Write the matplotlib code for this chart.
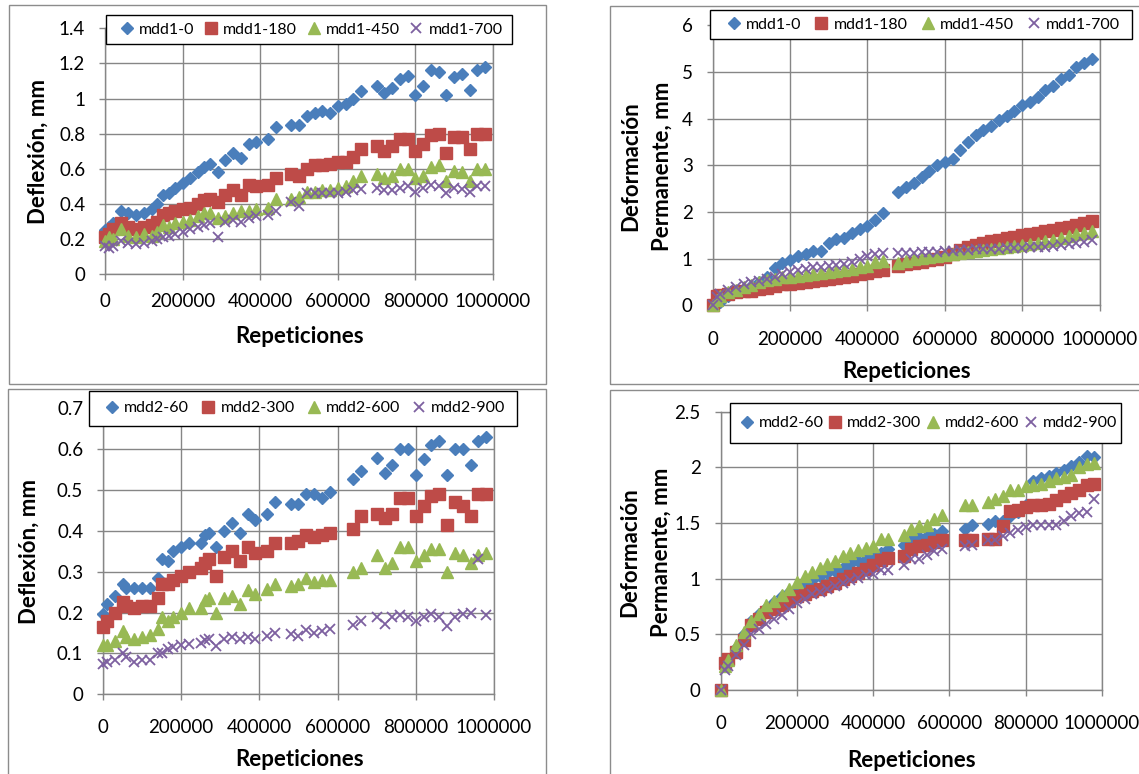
import matplotlib
matplotlib.use("Agg")
import matplotlib.pyplot as plt
from matplotlib.patches import Rectangle
from matplotlib.ticker import FuncFormatter

plt.rcParams['font.family'] = ['Lato', 'DejaVu Sans']

# ---- data ----
X_MDD1_DEF = [0, 10000, 20000, 40000, 60000, 80000, 100000, 120000, 135000, 150000,
              165000, 180000, 200000, 220000, 240000, 255000, 270000, 290000, 310000, 330000,
              350000, 370000, 390000, 420000, 440000, 480000, 500000, 520000, 540000, 560000,
              580000, 600000, 620000, 640000, 660000, 700000, 720000, 740000, 760000, 780000,
              800000, 820000, 840000, 860000, 880000, 900000, 920000, 940000, 960000, 980000]
MDD1_0_DEF = [0.25, 0.27, 0.29, 0.36, 0.35, 0.34, 0.35, 0.37, 0.40, 0.45,
              0.46, 0.49, 0.52, 0.55, 0.58, 0.61, 0.63, 0.58, 0.65, 0.69,
              0.66, 0.74, 0.75, 0.77, 0.84, 0.85, 0.85, 0.90, 0.92, 0.93,
              0.92, 0.96, 0.97, 1.00, 1.04, 1.07, 1.03, 1.06, 1.11, 1.13,
              1.02, 1.07, 1.16, 1.15, 1.02, 1.12, 1.14, 1.05, 1.16, 1.18]
MDD1_180_DEF = [0.215, 0.23, 0.26, 0.29, 0.27, 0.26, 0.27, 0.28, 0.30, 0.34,
                0.35, 0.36, 0.37, 0.38, 0.40, 0.42, 0.43, 0.41, 0.45, 0.48,
                0.45, 0.51, 0.50, 0.51, 0.55, 0.57, 0.56, 0.60, 0.62, 0.62,
                0.63, 0.64, 0.64, 0.67, 0.71, 0.73, 0.70, 0.73, 0.77, 0.77,
                0.70, 0.74, 0.79, 0.80, 0.69, 0.78, 0.78, 0.71, 0.80, 0.80]
MDD1_450_DEF = [0.19, 0.21, 0.20, 0.26, 0.22, 0.21, 0.23, 0.22, 0.24, 0.28,
                0.27, 0.29, 0.30, 0.31, 0.33, 0.35, 0.35, 0.32, 0.33, 0.35,
                0.36, 0.36, 0.37, 0.38, 0.43, 0.43, 0.44, 0.47, 0.47, 0.48,
                0.48, 0.49, 0.50, 0.53, 0.56, 0.57, 0.55, 0.56, 0.60, 0.60,
                0.55, 0.56, 0.61, 0.62, 0.53, 0.59, 0.58, 0.53, 0.60, 0.60]
MDD1_700_DEF = [0.16, 0.15, 0.16, 0.19, 0.18, 0.17, 0.18, 0.19, 0.20, 0.21,
                0.22, 0.23, 0.24, 0.26, 0.27, 0.28, 0.29, 0.215, 0.30, 0.31,
                0.30, 0.32, 0.33, 0.34, 0.36, 0.41, 0.39, 0.46, 0.46, 0.46,
                0.46, 0.46, 0.47, 0.48, 0.485, 0.49, 0.48, 0.48, 0.49, 0.50,
                0.47, 0.49, 0.51, 0.50, 0.46, 0.49, 0.485, 0.47, 0.50, 0.50]

X_MDD1_PERM = [0, 10000, 20000, 40000, 60000, 80000, 100000, 120000, 140000, 160000,
               180000, 200000, 220000, 240000, 260000, 280000, 300000, 320000, 340000, 360000,
               380000, 400000, 420000, 440000, 480000, 500000, 520000, 540000, 560000, 580000,
               600000, 620000, 640000, 660000, 680000, 700000, 720000, 740000, 760000, 780000,
               800000, 820000, 840000, 860000, 880000, 900000, 920000, 940000, 960000, 980000]
MDD1_0_PERM = [0.0, 0.04, 0.07, 0.20, 0.28, 0.36, 0.42, 0.50, 0.62, 0.80,
               0.90, 0.98, 1.05, 1.10, 1.16, 1.16, 1.34, 1.43, 1.45, 1.55,
               1.63, 1.70, 1.83, 1.98, 2.43, 2.53, 2.63, 2.75, 2.88, 3.00,
               3.08, 3.14, 3.32, 3.50, 3.64, 3.75, 3.85, 3.96, 4.06, 4.15,
               4.28, 4.36, 4.47, 4.60, 4.70, 4.85, 4.93, 5.10, 5.18, 5.28]
MDD1_180_PERM = [0.0, 0.20, 0.22, 0.25, 0.28, 0.30, 0.32, 0.35, 0.38, 0.42,
                 0.45, 0.46, 0.48, 0.50, 0.52, 0.55, 0.57, 0.59, 0.61, 0.64,
                 0.67, 0.70, 0.73, 0.76, 0.85, 0.88, 0.91, 0.94, 0.97, 1.00,
                 1.04, 1.10, 1.18, 1.26, 1.30, 1.34, 1.37, 1.41, 1.44, 1.47,
                 1.50, 1.53, 1.56, 1.59, 1.62, 1.65, 1.68, 1.72, 1.77, 1.80]
MDD1_450_PERM = [0.0, 0.12, 0.20, 0.28, 0.34, 0.40, 0.44, 0.50, 0.54, 0.57,
                 0.60, 0.62, 0.64, 0.66, 0.68, 0.70, 0.72, 0.74, 0.76, 0.79,
                 0.82, 0.84, 0.93, 0.96, 0.90, 0.95, 0.99, 1.01, 1.04, 1.06,
                 1.08, 1.10, 1.13, 1.15, 1.17, 1.19, 1.21, 1.23, 1.25, 1.27,
                 1.29, 1.31, 1.34, 1.37, 1.40, 1.44, 1.48, 1.52, 1.56, 1.60]
MDD1_700_PERM = [0.0, 0.18, 0.25, 0.33, 0.40, 0.45, 0.50, 0.53, 0.57, 0.62,
                 0.68, 0.72, 0.76, 0.79, 0.82, 0.82, 0.84, 0.86, 0.88, 0.93,
                 0.99, 1.05, 1.10, 1.12, 1.12, 1.13, 1.12, 1.14, 1.15, 1.15,
                 1.17, 1.17, 1.18, 1.19, 1.20, 1.20, 1.21, 1.21, 1.22, 1.23,
                 1.24, 1.25, 1.26, 1.26, 1.28, 1.29, 1.31, 1.33, 1.36, 1.40]

X_MDD2_DEF = [0, 10000, 30000, 50000, 60000, 80000, 100000, 120000, 140000, 150000,
              165000, 180000, 200000, 220000, 250000, 260000, 270000, 290000, 310000, 330000,
              350000, 370000, 390000, 420000, 440000, 480000, 500000, 520000, 540000, 560000,
              580000, 640000, 660000, 700000, 720000, 740000, 760000, 780000, 800000, 820000,
              840000, 860000, 880000, 900000, 920000, 940000, 960000, 980000]
MDD2_60_DEF = [0.196, 0.22, 0.24, 0.27, 0.26, 0.26, 0.26, 0.26, 0.285, 0.33,
               0.325, 0.35, 0.36, 0.37, 0.37, 0.39, 0.395, 0.36, 0.40, 0.42,
               0.395, 0.44, 0.425, 0.44, 0.47, 0.465, 0.465, 0.49, 0.49, 0.48,
               0.495, 0.527, 0.545, 0.577, 0.54, 0.56, 0.60, 0.60, 0.535, 0.575,
               0.61, 0.62, 0.535, 0.60, 0.60, 0.56, 0.62, 0.63]
MDD2_300_DEF = [0.165, 0.18, 0.20, 0.225, 0.215, 0.21, 0.215, 0.215, 0.235, 0.27,
                0.27, 0.28, 0.29, 0.30, 0.31, 0.32, 0.33, 0.29, 0.335, 0.35,
                0.325, 0.36, 0.345, 0.35, 0.37, 0.37, 0.375, 0.39, 0.385, 0.39,
                0.395, 0.405, 0.435, 0.44, 0.43, 0.44, 0.48, 0.48, 0.435, 0.46,
                0.485, 0.49, 0.415, 0.47, 0.46, 0.435, 0.49, 0.49]
MDD2_600_DEF = [0.12, 0.12, 0.13, 0.155, 0.14, 0.135, 0.14, 0.145, 0.16, 0.19,
                0.18, 0.19, 0.20, 0.21, 0.21, 0.23, 0.235, 0.20, 0.235, 0.24,
                0.22, 0.255, 0.245, 0.257, 0.27, 0.265, 0.27, 0.285, 0.275, 0.28,
                0.28, 0.30, 0.31, 0.34, 0.31, 0.32, 0.36, 0.36, 0.325, 0.34,
                0.355, 0.355, 0.30, 0.345, 0.34, 0.32, 0.34, 0.345]
MDD2_900_DEF = [0.073, 0.08, 0.085, 0.10, 0.09, 0.08, 0.085, 0.085, 0.10, 0.10,
                0.11, 0.116, 0.12, 0.122, 0.126, 0.132, 0.135, 0.118, 0.135, 0.14,
                0.135, 0.14, 0.135, 0.143, 0.15, 0.147, 0.143, 0.157, 0.15, 0.155,
                0.16, 0.17, 0.18, 0.19, 0.173, 0.19, 0.195, 0.19, 0.178, 0.19,
                0.196, 0.19, 0.167, 0.188, 0.196, 0.20, 0.33, 0.195]

X_MDD2_PERM = [0, 10000, 20000, 40000, 60000, 80000, 100000, 120000, 140000, 160000,
               180000, 200000, 220000, 240000, 260000, 280000, 300000, 320000, 340000, 360000,
               380000, 400000, 420000, 440000, 480000, 500000, 520000, 540000, 560000, 580000,
               640000, 660000, 700000, 720000, 740000, 760000, 780000, 800000, 820000, 840000,
               860000, 880000, 900000, 920000, 940000, 960000, 980000]
MDD2_60_PERM = [0.0, 0.22, 0.27, 0.38, 0.50, 0.62, 0.68, 0.74, 0.79, 0.84,
                0.88, 0.92, 0.96, 0.99, 1.02, 1.05, 1.07, 1.10, 1.13, 1.16,
                1.18, 1.20, 1.23, 1.27, 1.30, 1.35, 1.37, 1.38, 1.40, 1.43,
                1.45, 1.48, 1.49, 1.52, 1.52, 1.56, 1.60, 1.66, 1.88, 1.90,
                1.92, 1.95, 1.98, 2.01, 2.05, 2.10, 2.09]
MDD2_300_PERM = [0.0, 0.24, 0.28, 0.34, 0.45, 0.58, 0.64, 0.70, 0.73, 0.76,
                 0.80, 0.84, 0.86, 0.89, 0.91, 0.93, 0.96, 1.00, 1.02, 1.05,
                 1.09, 1.12, 1.17, 1.19, 1.20, 1.27, 1.29, 1.30, 1.33, 1.35,
                 1.35, 1.35, 1.36, 1.36, 1.47, 1.61, 1.62, 1.64, 1.66, 1.66,
                 1.67, 1.71, 1.74, 1.77, 1.80, 1.84, 1.85]
MDD2_600_PERM = [0.0, 0.22, 0.27, 0.40, 0.52, 0.62, 0.68, 0.76, 0.80, 0.85,
                 0.91, 0.97, 1.02, 1.06, 1.10, 1.13, 1.16, 1.20, 1.23, 1.26,
                 1.28, 1.29, 1.36, 1.36, 1.39, 1.45, 1.47, 1.48, 1.54, 1.57,
                 1.66, 1.66, 1.69, 1.72, 1.74, 1.80, 1.80, 1.83, 1.84, 1.85,
                 1.88, 1.90, 1.91, 1.93, 2.00, 2.03, 2.04]
MDD2_900_PERM = [0.0, 0.18, 0.22, 0.31, 0.40, 0.50, 0.55, 0.59, 0.64, 0.67,
                 0.73, 0.78, 0.82, 0.86, 0.88, 0.91, 0.93, 0.96, 0.99, 1.01,
                 1.03, 1.04, 1.08, 1.08, 1.12, 1.18, 1.18, 1.21, 1.25, 1.27,
                 1.29, 1.30, 1.35, 1.35, 1.38, 1.41, 1.44, 1.46, 1.48, 1.48,
                 1.48, 1.48, 1.52, 1.56, 1.59, 1.60, 1.72]

LABELS_MDD1 = ['mdd1-0', 'mdd1-180', 'mdd1-450', 'mdd1-700']
LABELS_MDD2 = ['mdd2-60', 'mdd2-300', 'mdd2-600', 'mdd2-900']
X_TICKS = [0, 200000, 400000, 600000, 800000, 1000000]

# ---- styling ----
W, H = 1139, 774
GRID = '#868686'
COLORS = ['#4A7EBB', '#BE4B48', '#98B954', '#7D60A0']
MARKERS = [dict(marker='D', ms=6.4), dict(marker='s', ms=8.0),
           dict(marker='^', ms=8.6), dict(marker='x', ms=7.4, mew=1.3)]

fig = plt.figure(figsize=(W / 100, H / 100), dpi=100)


def fx(px):
    return px / W


def fy(py):
    return 1 - py / H


def frame(l, t, r, b, **kw):
    fig.add_artist(Rectangle((fx(l), fy(b)), fx(r) - fx(l), fy(t) - fy(b),
                             transform=fig.transFigure, **kw))


# chart-area frames
frame(9, 5, 546, 384, fill=False, ec='#8c8c8c', lw=1.0)
frame(610, 6, 1145, 384, fill=False, ec='#8c8c8c', lw=1.0)
frame(8, 389, 546, 780, fill=False, ec='#8c8c8c', lw=1.0)
frame(610, 390, 1145, 780, fill=False, ec='#8c8c8c', lw=1.0)

panels = [
    dict(rect=(105, 28.2, 493, 274.3), x=X_MDD1_DEF,
         ys=[MDD1_0_DEF, MDD1_180_DEF, MDD1_450_DEF, MDD1_700_DEF], labels=LABELS_MDD1,
         yticks=[0, 0.2, 0.4, 0.6, 0.8, 1.0, 1.2, 1.4], xpad=9.5,
         legbox=(106, 14.7, 511.6, 44.3), legents=(120.6, 502.6),
         ylab=[('Deflexión, mm', 38.7, 152)], xlab=(300, 336.5)),
    dict(rect=(712.7, 25, 1099.5, 305.5), x=X_MDD1_PERM,
         ys=[MDD1_0_PERM, MDD1_180_PERM, MDD1_450_PERM, MDD1_700_PERM], labels=LABELS_MDD1,
         yticks=[0, 1, 2, 3, 4, 5, 6], xpad=14,
         legbox=(710.1, 10.2, 1132, 38.7), legents=(727.3, 1120.2),
         ylab=[('Deformación', 630.5, 166.5), ('Permanente, mm', 661.8, 166.5)],
         xlab=(907, 371.7)),
    dict(rect=(103, 408, 494, 694.3), x=X_MDD2_DEF,
         ys=[MDD2_60_DEF, MDD2_300_DEF, MDD2_600_DEF, MDD2_900_DEF], labels=LABELS_MDD2,
         yticks=[0, 0.1, 0.2, 0.3, 0.4, 0.5, 0.6, 0.7], xpad=13.5,
         legbox=(89.2, 390.8, 516.5, 425.5), legents=(106, 505.4),
         ylab=[('Deflexión, mm', 28.8, 552)], xlab=(300, 759.6)),
    dict(rect=(720.7, 411.7, 1102, 690), x=X_MDD2_PERM,
         ys=[MDD2_60_PERM, MDD2_300_PERM, MDD2_600_PERM, MDD2_900_PERM], labels=LABELS_MDD2,
         yticks=[0, 0.5, 1.0, 1.5, 2.0, 2.5], xpad=14,
         legbox=(730, 402.7, 1121.3, 443.5), legents=(740.3, 1116.9),
         ylab=[('Deformación', 630, 552), ('Permanente, mm', 661.5, 552)],
         xlab=(912, 760.7)),
]

fmt = FuncFormatter(lambda v, pos: '%g' % round(v, 6))

for p in panels:
    l, t, r, b = p['rect']
    ax = fig.add_axes([fx(l), fy(b), fx(r) - fx(l), fy(t) - fy(b)])
    handles = []
    for y, lab, c, mk in zip(p['ys'], p['labels'], COLORS, MARKERS):
        h, = ax.plot(p['x'], y, ls='none', color=c, mfc=c, mec=c, clip_on=False,
                     label=lab, zorder=3, **mk)
        handles.append(h)
    ax.set_xlim(0, 1000000)
    ax.set_ylim(p['yticks'][0], p['yticks'][-1])
    ax.set_xticks(X_TICKS)
    ax.set_yticks(p['yticks'])
    ax.xaxis.set_major_formatter(FuncFormatter(lambda v, pos: '%d' % v))
    ax.yaxis.set_major_formatter(fmt)
    ax.grid(True, color=GRID, lw=1.0)
    ax.set_axisbelow(True)
    for s in ax.spines.values():
        s.set_color(GRID)
        s.set_linewidth(1.0)
    ax.tick_params(axis='both', direction='out', length=4.3, width=1.0, color=GRID,
                   labelsize=13.5, labelcolor='black')
    ax.tick_params(axis='y', pad=10)
    ax.tick_params(axis='x', pad=p['xpad'])

    # legend box + entries
    bl, bt, br, bb = p['legbox']
    frame(bl, bt, br, bb, fc='white', ec='black', lw=1.0, zorder=4)
    e0, e1 = p['legents']
    cy = (bt + bb) / 2
    fig.legend(handles, p['labels'], loc='center', ncol=4, mode='expand',
               bbox_to_anchor=(fx(e0), fy(cy + 10), fx(e1) - fx(e0), fy(cy - 10) - fy(cy + 10)),
               bbox_transform=fig.transFigure, frameon=False, borderaxespad=0,
               borderpad=0, handlelength=0.8, handletextpad=0.35, columnspacing=0.5,
               fontsize=11.5).set_zorder(5)

    for txt, x0, y0 in p['ylab']:
        fig.text(fx(x0), fy(y0), txt, rotation=90, ha='center', va='center',
                 fontsize=16, fontweight='bold')
    fig.text(fx(p['xlab'][0]), fy(p['xlab'][1]), 'Repeticiones', ha='center',
             va='center', fontsize=16, fontweight='bold')

fig.savefig('out.png', dpi=100)
